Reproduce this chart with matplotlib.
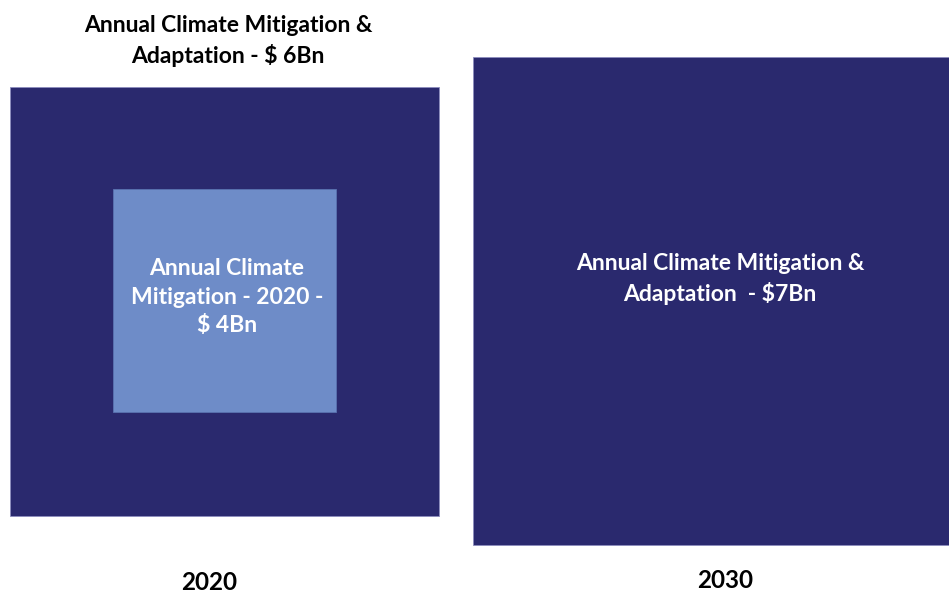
import matplotlib
matplotlib.use("Agg")
import matplotlib.pyplot as plt
from matplotlib.patches import Rectangle

plt.rcParams['font.family'] = ['Lato', 'DejaVu Sans']

# Data
years = ["2020", "2030"]
total_values = [6, 7]            # $Bn, mitigation & adaptation
mitigation_2020 = 4              # $Bn
title_2020 = "Annual Climate Mitigation &\nAdaptation - $ {}Bn".format(total_values[0])
inner_label = "Annual Climate\nMitigation - 2020 -\n$ {}Bn".format(mitigation_2020)
right_label = "Annual Climate Mitigation &\nAdaptation  - ${}Bn".format(total_values[1])

navy = "#2A296E"
light = "#6E8CC8"

W, H = 949, 594
fig = plt.figure(figsize=(W / 100, H / 100), dpi=100)
ax = fig.add_axes([0, 0, 1, 1])
ax.set_xlim(0, W)
ax.set_ylim(H, 0)
ax.axis("off")

# Layout (pixel space)
outer_2020 = (10, 87, 429, 429)
inner_2020 = (113, 189, 223, 223)
box_2030 = (473, 57, 480, 488)

for (x, y, w, h), c in [(outer_2020, navy), (inner_2020, light), (box_2030, navy)]:
    ax.add_patch(Rectangle((x, y), w, h, facecolor=c, edgecolor="#8C8CBE" if c == navy else "#5A72B0", lw=0.6))

fs = 16.5
ls = 1.42
ax.text(228, 41, title_2020, ha="center", va="center", fontsize=fs, fontweight="bold",
        color="black", linespacing=ls, parse_math=False)
ax.text(227, 297, inner_label, ha="center", va="center", fontsize=fs, fontweight="bold",
        color="white", linespacing=ls, parse_math=False)
ax.text(720, 279, right_label, ha="center", va="center", fontsize=fs, fontweight="bold",
        color="white", linespacing=ls, parse_math=False)
ax.text(209, 582, years[0], ha="center", va="center", fontsize=17.5, fontweight="bold", color="black")
ax.text(725, 581, years[1], ha="center", va="center", fontsize=17.5, fontweight="bold", color="black")

fig.savefig("out.png", dpi=100, facecolor="white")
